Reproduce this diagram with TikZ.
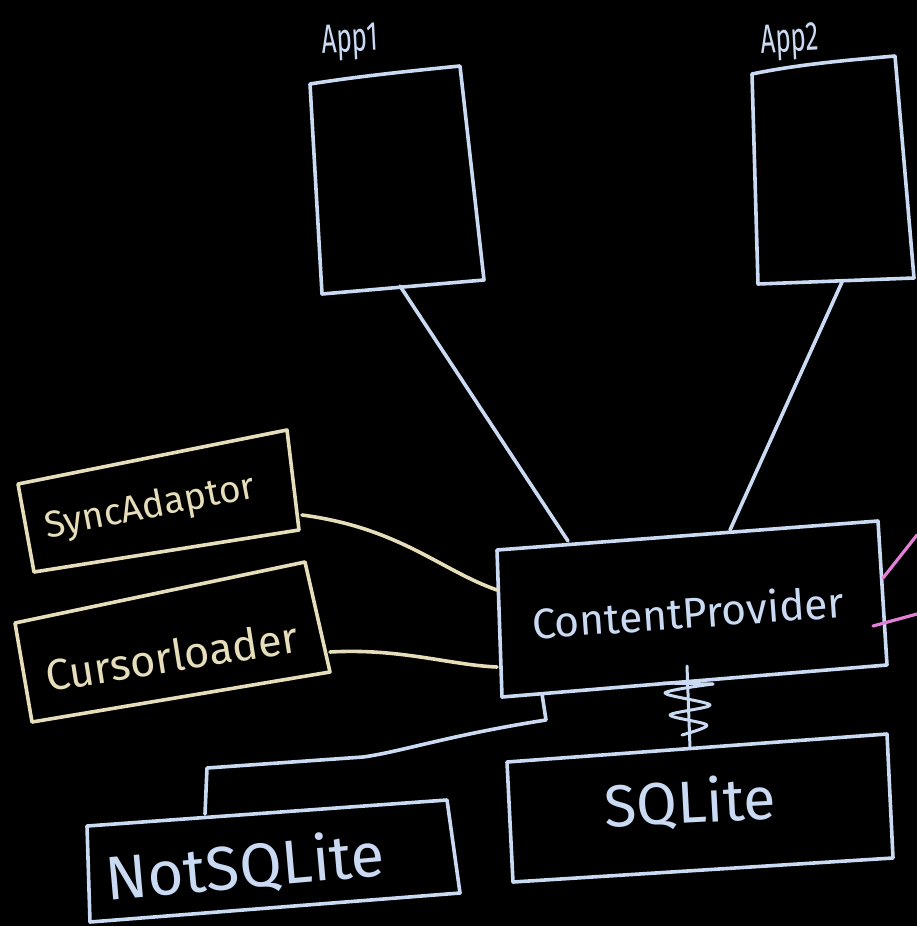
\documentclass[tikz,border=0pt]{standalone}
\usepackage{fontspec}
\setmainfont{Fira Sans}
\usepackage{graphicx}
\definecolor{chalk}{HTML}{C9DAF2}
\definecolor{beige}{HTML}{E6DDBA}
\definecolor{pinkc}{HTML}{E27FD6}
\tikzset{
  chalkline/.style={draw=chalk, line width=3.6pt, line cap=round, line join=round},
  beigeline/.style={draw=beige, line width=3.6pt, line cap=round, line join=round},
  pinkline/.style={draw=pinkc, line width=3.2pt, line cap=round},
  chalktext/.style={text=chalk, inner sep=0pt},
  beigetext/.style={text=beige, inner sep=0pt}
}
\begin{document}
\begin{tikzpicture}[x=1pt,y=-1pt]
\fill[black] (0,0) rectangle (917,926);
\useasboundingbox (0,0) rectangle (917,926);

% App1
\coordinate (a1tl) at (310,84);
\coordinate (a1tr) at (460,66);
\coordinate (a1br) at (484,280);
\coordinate (a1bl) at (322,294);
\draw[chalkline] (a1tl) .. controls (360,76) and (420,70) .. (a1tr) -- (a1br) -- (a1bl) -- cycle;
\node[chalktext, rotate=3] (app1lbl) at (350,42) {\resizebox{56pt}{28pt}{App1}};

% App2
\coordinate (a2tl) at (752,74);
\coordinate (a2tr) at (895,56);
\coordinate (a2br) at (914,278);
\coordinate (a2bl) at (758,284);
\draw[chalkline] (a2tl) .. controls (800,64) and (850,60) .. (a2tr) -- (a2br) -- (a2bl) -- cycle;
\node[chalktext, rotate=3] (app2lbl) at (790,42) {\resizebox{58pt}{28pt}{App2}};

% ContentProvider
\coordinate (cptl) at (497,550);
\coordinate (cptr) at (878,521);
\coordinate (cpbr) at (887,665);
\coordinate (cpbl) at (502,697);
\draw[chalkline] (cptl) -- (cptr) -- (cpbr) -- (cpbl) -- cycle;
\node[chalktext, rotate=4] (cp) at (688,612) {\resizebox{313pt}{!}{ContentProvider}};

% connectors from apps
\coordinate (a1b) at (400,286);
\coordinate (cpt1) at (568,541);
\coordinate (a2b) at (842,282);
\coordinate (cpt2) at (730,530);
\draw[chalkline] (a1b) -- (cpt1);
\draw[chalkline] (a2b) -- (cpt2);

% SyncAdaptor
\coordinate (satl) at (18,484);
\coordinate (satr) at (287,430);
\coordinate (sabr) at (299,530);
\coordinate (sabl) at (34,572);
\draw[beigeline] (satl) -- (satr) -- (sabr) -- (sabl) -- cycle;
\node[beigetext, rotate=11] (sa) at (150,508) {\resizebox{213pt}{!}{SyncAdaptor}};
\coordinate (saout) at (302,515);
\coordinate (cpin1) at (497,590);
\draw[beigeline] (saout) .. controls (400,528) and (440,570) .. (cpin1);

% Cursorloader
\coordinate (cltl) at (15,623);
\coordinate (cltr) at (305,562);
\coordinate (clbr) at (330,672);
\coordinate (clbl) at (32,722);
\draw[beigeline] (cltl) -- (cltr) -- (clbr) -- (clbl) -- cycle;
\node[beigetext, rotate=9] (cl) at (172,656) {\resizebox{255pt}{!}{Cursorloader}};
\coordinate (clout) at (330,652);
\coordinate (cpin2) at (497,667);
\draw[beigeline] (clout) .. controls (400,648) and (450,665) .. (cpin2);

% pink lines
\coordinate (pk1a) at (883,578);
\coordinate (pk1b) at (917,535);
\coordinate (pk2a) at (873,626);
\coordinate (pk2b) at (917,614);
\draw[pinkline] (pk1a) -- (pk1b);
\draw[pinkline] (pk2a) -- (pk2b);

% SQLite
\coordinate (sqtl) at (507,762);
\coordinate (sqtr) at (887,734);
\coordinate (sqbr) at (893,858);
\coordinate (sqbl) at (513,882);
\draw[chalkline] (sqtl) -- (sqtr) -- (sqbr) -- (sqbl) -- cycle;
\node[chalktext, rotate=3] (sq) at (690,803) {\resizebox{172pt}{!}{SQLite}};

% squiggle link
\coordinate (cpb2) at (687,666);
\coordinate (sqt) at (690,748);
\draw[chalkline, line width=3pt] (cpb2) -- (sqt);
\draw[chalkline, line width=3pt] (663,683) -- (713,684);
\draw[chalkline, line width=3pt] plot[smooth] coordinates {(713,684) (665,693) (710,705) (670,715) (707,725) (682,735)};

% NotSQLite
\coordinate (nstl) at (87,826);
\coordinate (nstr) at (447,800);
\coordinate (nsbr) at (460,893);
\coordinate (nsbl) at (90,922);
\draw[chalkline] (nstl) -- (nstr) -- (nsbr) -- (nsbl) -- cycle;
\node[chalktext, rotate=5] (ns) at (245,867) {\resizebox{280pt}{!}{NotSQLite}};
\coordinate (cpb1) at (542,694);
\coordinate (nstop) at (205,814);
\draw[chalkline] (cpb1) -- (546,720) .. controls (450,735) and (400,752) .. (363,757) -- (207,768) -- (nstop);
\end{tikzpicture}
\end{document}
